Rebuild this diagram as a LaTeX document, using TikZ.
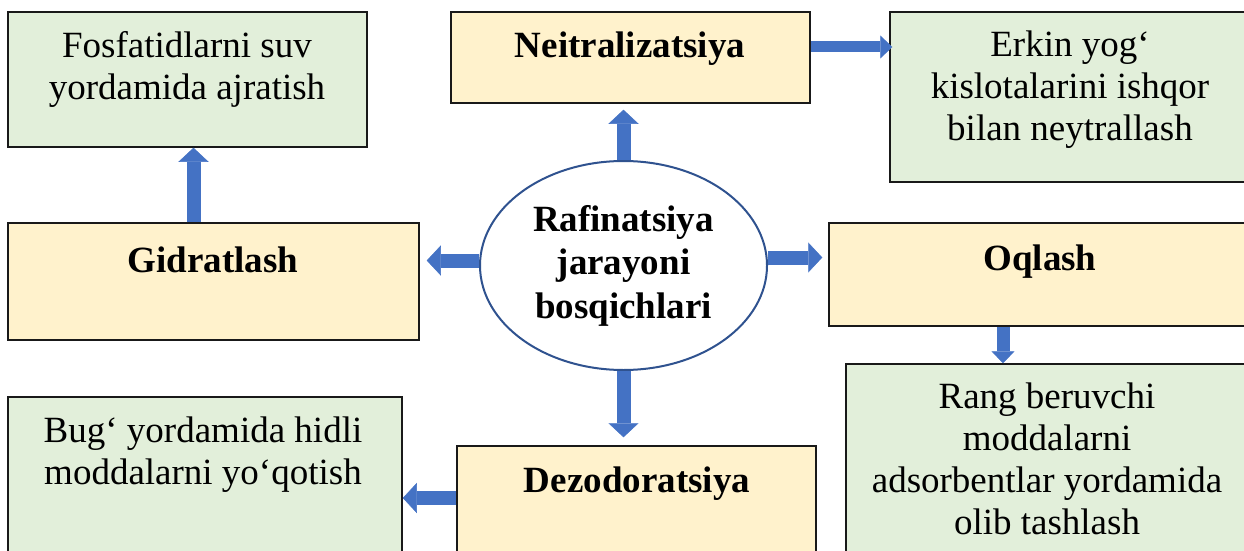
\documentclass[tikz,border=0pt]{standalone}
\usepackage{fontspec}
\setmainfont{Liberation Serif}
\usetikzlibrary{arrows.meta,calc,shapes.geometric}
\definecolor{stageyellow}{HTML}{FFF2CC}
\definecolor{notegreen}{HTML}{E2EFDA}
\definecolor{arrowblue}{HTML}{4472C4}
\definecolor{ringblue}{HTML}{2F528F}

\begin{document}
\begin{tikzpicture}[x=1pt,y=-1pt,
  every node/.style={font=\fontsize{37}{42}\selectfont,align=center,inner sep=0pt},
  stagebox/.style={rectangle,draw=black!90,line width=1.5pt,fill=stageyellow},
  notebox/.style={rectangle,draw=black!90,line width=1.5pt,fill=notegreen},
  stagetxt/.style={font=\fontsize{37}{42}\selectfont\bfseries,anchor=base},
  blockarrow/.style={arrowblue,line width=14pt,-{Triangle[width=30pt,length=14pt,line width=0.5pt]}},
  thinarrow/.style={arrowblue,line width=11pt,-{Triangle[width=23pt,length=12pt,line width=0.5pt]}}]
\useasboundingbox (0,0) rectangle (1244,551);
\clip (0,0) rectangle (1244,551);
\node[notebox,minimum width=359pt,minimum height=135pt] (fosbox) at (187.5,79.5) {};
\node (fostxt) at (187,69) {Fosfatidlarni suv\\yordamida ajratish};
\node[stagebox,minimum width=359pt,minimum height=91pt] (neitbox) at (630.5,57.5) {};
\node[stagetxt] (neittxt) at (630,57) {Neitralizatsiya};
\node[notebox,minimum width=360pt,minimum height=170pt] (erkinbox) at (1070,97) {};
\node (erkintxt) at (1070,90) {Erkin yog‘\\kislotalarini ishqor\\bilan neytrallash};
\node[stagebox,minimum width=411pt,minimum height=117pt] (gidbox) at (213.5,281.5) {};
\node[stagetxt] (gidtxt) at (213,272) {Gidratlash};
\node[stagebox,minimum width=421pt,minimum height=103pt] (oqbox) at (1039.5,274.5) {};
\node[stagetxt] (oqtxt) at (1040,270) {Oqlash};
\node[notebox,minimum width=404pt,minimum height=236pt] (rangbox) at (1048,482) {};
\node (rangtxt) at (1047,459) {Rang beruvchi\\moddalarni\\adsorbentlar yordamida\\olib tashlash};
\node[notebox,minimum width=394pt,minimum height=203pt] (bugbox) at (205,498.5) {};
\node (bugtxt) at (203,455) {Bug‘ yordamida hidli\\moddalarni yo‘qotish};
\node[stagebox,minimum width=359pt,minimum height=154pt] (dezbox) at (636.5,523) {};
\node[stagetxt] (deztxt) at (637,492) {Dezodoratsiya};
\node[ellipse,draw=ringblue,line width=2pt,fill=white,minimum width=287pt,minimum height=209pt,
  font=\fontsize{37}{43.5}\selectfont\bfseries] (hub) at (623.5,265.5) {Rafinatsiya\\jarayoni\\bosqichlari};
\draw[blockarrow,shorten >=6pt] (hub.north) -- (hub.north |- neitbox.south);
\draw[blockarrow,shorten >=7pt] ($(hub.west)+(0,-5)$) -- ($(hub.west -| gidbox.east)+(0,-5)$);
\draw[blockarrow,shorten >=6pt] ($(hub.east)+(0,-8)$) -- ($(hub.east -| oqbox.west)+(0,-8)$);
\draw[blockarrow,shorten >=8pt] (hub.south) -- (hub.south |- dezbox.north);
\draw[blockarrow] ($(gidbox.north)+(-20,0)$) -- ($(gidbox.north |- fosbox.south)+(-20,0)$);
\draw[thinarrow,shorten >=-3pt] ($(neitbox.east)+(0,-10.5)$) -- ($(neitbox.east -| erkinbox.west)+(0,-10.5)$);
\draw[thinarrow,line width=13pt] ($(oqbox.south)+(-36.5,0)$) -- ($(oqbox.south |- rangbox.north)+(-36.5,0)$);
\draw[blockarrow] ($(dezbox.west)+(0,-25)$) -- ($(dezbox.west -| bugbox.east)+(0,-25)$);
\end{tikzpicture}
\end{document}
